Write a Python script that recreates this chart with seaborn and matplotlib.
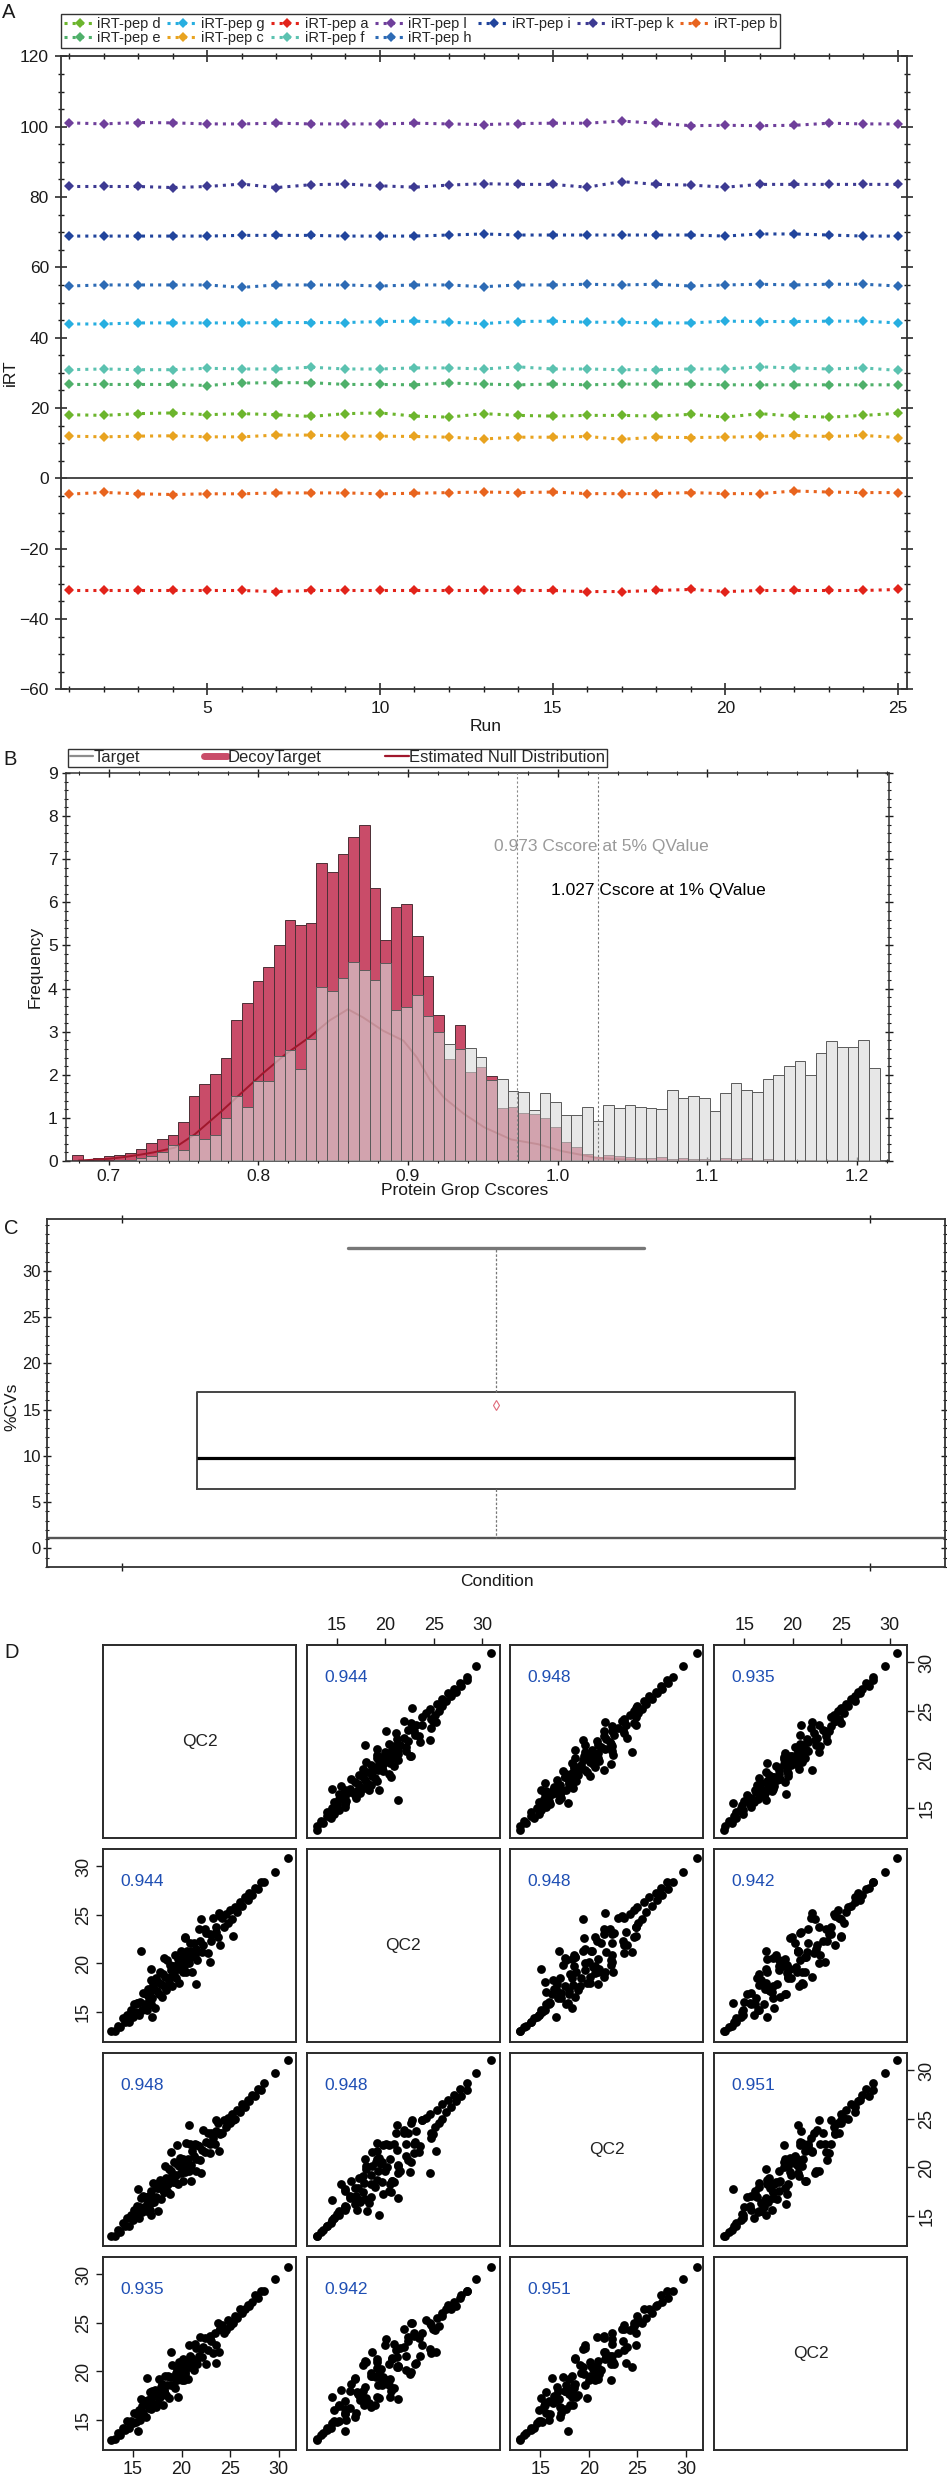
import numpy as np
import pandas as pd
import matplotlib
matplotlib.use("Agg")
import matplotlib.pyplot as plt
from matplotlib.ticker import MultipleLocator, FormatStrFormatter
from matplotlib.lines import Line2D
import seaborn as sns

sns.set_theme(style="ticks")
plt.rcParams["font.family"] = ["Liberation Sans", "DejaVu Sans"]

W, H = 947, 2480


def px(l, t, r, b):
    # pixel box -> figure fraction rect
    return [l / W, 1 - b / H, (r - l) / W, (b - t) / H]


# ---------------- panel A : iRT peptides per run
runs = list(range(1, 26))
pep_l = [101.1, 100.8, 101.2, 101.1, 100.8, 100.8, 101.0, 100.8, 100.8, 100.8, 101.0, 100.8, 100.6,
         100.9, 101.0, 101.0, 101.6, 101.0, 100.3, 100.4, 100.3, 100.4, 101.0, 100.8, 100.8]
pep_k = [83.0, 83.0, 83.0, 82.7, 83.0, 83.7, 82.7, 83.5, 83.7, 83.2, 82.8, 83.4, 83.8,
         83.6, 83.6, 82.8, 84.4, 83.6, 83.4, 82.8, 83.6, 83.6, 83.6, 83.6, 83.6]
pep_i = [68.9, 68.9, 68.9, 68.9, 68.9, 69.1, 69.1, 69.1, 68.9, 68.9, 68.9, 69.2, 69.5,
         69.2, 69.2, 69.2, 69.2, 69.2, 69.2, 68.9, 69.5, 69.5, 69.2, 68.9, 68.9]
pep_h = [54.7, 55.0, 55.0, 55.0, 55.0, 54.3, 55.0, 55.0, 55.0, 54.7, 55.0, 55.0, 54.5,
         55.0, 55.0, 55.2, 55.0, 55.2, 54.7, 55.0, 55.2, 55.0, 55.2, 55.2, 54.7]
pep_g = [43.9, 43.9, 44.2, 44.2, 44.2, 44.2, 44.3, 44.3, 44.3, 44.6, 44.7, 44.4, 44.0,
         44.6, 44.7, 44.4, 44.4, 44.2, 44.2, 44.7, 44.6, 44.6, 44.7, 44.7, 44.2]
pep_f = [30.9, 31.1, 30.9, 30.9, 31.3, 31.1, 31.1, 31.6, 31.1, 31.1, 31.4, 31.4, 31.1,
         31.7, 31.1, 31.1, 30.9, 30.9, 31.1, 31.1, 31.7, 31.4, 31.1, 31.4, 30.7]
pep_e = [26.7, 26.7, 26.7, 26.7, 26.4, 27.1, 27.2, 27.2, 26.7, 26.7, 26.6, 27.1, 26.8,
         26.6, 26.8, 26.6, 26.8, 26.8, 26.8, 26.6, 26.6, 26.6, 26.6, 26.6, 26.6]
pep_d = [18.1, 17.9, 18.4, 18.6, 18.1, 18.4, 18.1, 17.6, 18.4, 18.6, 17.7, 17.4, 18.4,
         17.9, 17.7, 17.9, 17.9, 17.7, 18.2, 17.4, 18.4, 17.7, 17.4, 17.9, 18.5]
pep_c = [12.0, 11.8, 12.0, 12.1, 11.8, 11.8, 12.3, 12.3, 12.0, 12.0, 11.9, 11.7, 11.2,
         11.7, 11.7, 11.9, 11.1, 11.7, 11.6, 11.7, 11.9, 12.2, 11.9, 12.2, 11.6]
pep_b = [-4.5, -4.0, -4.4, -4.6, -4.4, -4.4, -4.15, -4.15, -4.15, -4.4, -4.25, -4.05, -3.9,
         -4.05, -3.9, -4.35, -4.35, -4.35, -4.05, -4.35, -4.35, -3.6, -3.9, -4.05, -4.05]
pep_a = [-31.9, -31.9, -31.9, -31.9, -31.9, -31.9, -32.2, -31.9, -31.9, -31.9, -31.9, -31.9, -31.9,
         -31.9, -31.9, -32.2, -32.2, -31.9, -31.6, -32.2, -31.9, -31.9, -31.9, -31.9, -31.6]

pep_order = ["d", "e", "g", "c", "a", "f", "l", "h", "i", "k", "b"]
pep_vals = {"a": pep_a, "b": pep_b, "c": pep_c, "d": pep_d, "e": pep_e, "f": pep_f,
            "g": pep_g, "h": pep_h, "i": pep_i, "k": pep_k, "l": pep_l}
pep_colors = {"d": "#6cb52d", "e": "#4fb06a", "g": "#27aee0", "c": "#e8a320",
              "a": "#e2231a", "f": "#5bc2b0", "l": "#6f3f9b", "h": "#2d6bb5",
              "i": "#21449c", "k": "#3d3a92", "b": "#e8641e"}

# ---------------- panel B : Cscore histograms
bin_start, bin_width = 0.6755, 0.0071
decoy = [0.13, 0.03, 0.08, 0.11, 0.14, 0.19, 0.27, 0.42, 0.5, 0.6,
         0.91, 1.51, 1.78, 2.02, 2.40, 3.26, 3.66, 4.17, 4.50, 5.01,
         5.58, 5.47, 5.52, 6.91, 6.71, 7.12, 7.52, 7.79, 6.33, 5.12,
         5.89, 5.95, 5.21, 4.28, 3.39, 2.36, 3.16, 2.07, 2.19, 1.98,
         1.24, 1.26, 1.11, 1.08, 0.99, 0.79, 0.43, 0.33, 0.17, 0.1,
         0.15, 0.12, 0.1, 0.08, 0.06, 0.1, 0.05, 0.08, 0.04, 0.05,
         0.03, 0.06, 0.04, 0.07, 0.03, 0.05, 0.02, 0.03, 0.02, 0.02,
         0.01, 0.02, 0.01, 0.01, 0.01, 0.01]
target = [0, 0, 0, 0, 0.02, 0.03, 0.06, 0.12, 0.2, 0.36,
          0.25, 0.6, 0.5, 0.6, 0.99, 1.51, 1.26, 1.86, 1.86, 2.44,
          2.57, 2.13, 2.84, 4.03, 3.95, 4.24, 4.61, 4.42, 4.21, 4.59,
          3.50, 3.57, 3.85, 3.37, 3.0, 2.71, 2.60, 2.62, 2.42, 1.88,
          1.90, 1.63, 1.60, 1.18, 1.57, 1.38, 1.06, 1.06, 1.26, 0.93,
          1.3, 1.22, 1.3, 1.25, 1.22, 1.2, 1.65, 1.45, 1.5, 1.45,
          1.15, 1.57, 1.8, 1.65, 1.6, 1.9, 2.0, 2.2, 2.32, 2.0,
          2.5, 2.78, 2.65, 2.65, 2.8, 2.15]
null_x = [0.680, 0.690, 0.700, 0.710, 0.720, 0.730, 0.7442, 0.7576, 0.7756, 0.7891, 0.8026,
          0.8183, 0.8341, 0.8476, 0.8599, 0.8700, 0.8835, 0.8970, 0.9060, 0.9150, 0.9240,
          0.9375, 0.9510, 0.9689, 0.9869, 1.0027, 1.0252, 1.040, 1.060]
null_y = [0.01, 0.03, 0.05, 0.09, 0.14, 0.20, 0.31, 0.62, 1.16, 1.59, 2.02,
          2.48, 2.87, 3.26, 3.52, 3.33, 3.02, 2.79, 2.40, 1.86, 1.47,
          1.09, 0.78, 0.50, 0.39, 0.23, 0.08, 0.04, 0.01]
cut_5, cut_1 = 0.973, 1.027

# ---------------- panel C : %CV box
cv_q1, cv_med, cv_q3 = 6.4, 9.8, 16.9
cv_lo, cv_hi, cv_mean = 1.1, 32.5, 15.5

# ---------------- panel D : replicate scatter matrix (log intensities, estimated cloud)
qc_1 = [31.0, 29.6, 28.5, 28.2, 27.9, 27.6, 27.3, 27.0, 26.8, 26.5, 26.2, 26.0, 25.7, 25.5, 25.2,
        25.0, 24.8, 24.6, 24.4, 24.2,
        24.0, 23.8, 23.6, 23.4, 23.2, 23.0, 22.9, 22.7, 22.5, 22.4, 22.2, 22.1, 21.9, 21.8, 21.6,
        21.5, 21.4, 21.3, 21.1, 21.0, 20.9, 20.8, 20.7, 20.6, 20.5, 20.4, 20.3, 20.2, 20.1, 20.0,
        19.9, 19.8, 19.7, 19.6, 19.5, 19.4, 19.3, 19.2, 19.1, 19.0, 18.9, 18.8, 18.7, 18.6, 18.5,
        18.4, 18.3, 18.2, 18.1, 18.0, 17.9, 17.8, 17.7, 17.6, 17.5, 17.4, 17.3, 17.2, 17.1, 17.0,
        16.9, 16.8, 16.7, 16.6, 16.5, 16.4, 16.3, 16.2, 16.0, 15.9, 15.7, 15.6, 15.4, 15.3, 15.1,
        15.0, 14.8, 14.6, 14.4, 14.2, 14.0, 13.7, 13.4, 13.1, 12.7,
        15.8, 21.5, 22.9, 18.2, 20.4, 24.0, 17.0, 19.5, 21.0, 16.4, 23.5, 25.3, 18.9, 22.0, 16.9,
        20.8, 15.5, 23.9]
qc_2 = [30.9, 29.4, 28.4, 28.4, 27.7, 27.8, 27.1, 27.3, 26.5, 26.8, 25.9, 26.3, 25.3, 25.8, 24.6,
        25.5, 24.2, 25.1, 23.8, 24.7,
        24.9, 22.7, 23.8, 23.0, 24.7, 22.3, 23.0, 21.1, 23.1, 23.5, 21.9, 21.2, 22.3, 23.6, 20.4,
        21.5, 20.9, 22.1, 19.1, 21.3, 22.1, 20.0, 20.5, 21.3, 19.1, 22.6, 19.7, 20.7, 19.1, 20.2,
        21.3, 19.4, 18.0, 20.5, 19.6, 18.5, 20.9, 19.0, 19.7, 17.7, 19.3, 19.8, 18.0, 18.5, 20.4,
        17.3, 18.6, 17.7, 18.9, 16.5, 17.9, 19.1, 16.9, 18.1, 17.2, 18.5, 15.4, 17.4, 17.8, 16.4,
        18.3, 15.8, 17.1, 16.4, 17.4, 15.2, 16.9, 15.8, 17.0, 15.2, 16.0, 14.7, 15.9, 15.0, 15.8,
        14.5, 15.2, 14.0, 14.7, 14.0, 14.4, 13.4, 13.6, 13.0, 13.0,
        21.3, 17.9, 20.1, 20.6, 22.7, 21.9, 14.5, 19.8, 20.7, 16.9, 23.2, 22.8, 18.6, 24.6, 19.4,
        21.2, 15.9, 25.2]
qc_3 = [31.1, 29.7, 28.7, 28.0, 28.1, 27.4, 27.5, 26.9, 27.0, 26.2, 26.5, 25.7, 25.9, 25.0, 25.5,
        24.6, 25.1, 24.2, 24.9, 23.6,
        23.4, 24.6, 24.9, 22.4, 23.0, 23.5, 21.5, 23.6, 22.6, 21.6, 23.9, 21.8, 20.8, 22.2, 22.3,
        19.6, 22.4, 21.2, 21.7, 20.3, 22.4, 19.6, 20.9, 20.2, 22.5, 19.5, 20.6, 18.6, 20.9, 20.0,
        19.4, 21.0, 20.1, 18.3, 20.4, 19.2, 18.5, 20.6, 18.5, 19.1, 19.6, 17.3, 19.8, 18.3, 17.6,
        18.9, 20.1, 17.5, 18.0, 18.6, 16.7, 18.7, 17.9, 15.5, 17.9, 17.0, 18.3, 16.4, 18.4, 16.8,
        16.3, 17.6, 15.6, 17.1, 16.6, 15.5, 17.0, 15.9, 17.1, 15.4, 15.9, 14.8, 16.0, 15.2, 15.6,
        14.6, 15.1, 14.0, 14.8, 14.0, 14.3, 13.3, 13.5, 12.9, 12.9,
        16.9, 20.9, 22.4, 17.5, 20.6, 23.6, 16.6, 22.3, 18.6, 16.2, 23.8, 24.9, 21.6, 19.4, 15.1,
        24.4, 17.8, 21.7]
qc_4 = [30.8, 29.5, 28.3, 28.3, 27.6, 27.9, 27.2, 26.7, 26.9, 26.4, 26.0, 26.4, 25.5, 25.7, 25.0,
        24.7, 25.3, 24.3, 24.0, 24.8,
        24.4, 25.0, 22.7, 24.0, 21.9, 23.1, 23.7, 22.2, 20.8, 23.4, 22.5, 21.5, 23.5, 21.6, 20.8,
        22.4, 22.8, 20.2, 21.3, 20.6, 21.6, 22.7, 19.2, 20.6, 21.0, 19.7, 19.1, 21.3, 20.4, 19.1,
        20.5, 19.7, 21.0, 17.4, 20.3, 19.8, 18.3, 19.4, 18.6, 20.7, 18.6, 19.4, 17.3, 19.5, 18.6,
        17.6, 19.5, 18.0, 16.5, 18.7, 18.4, 17.4, 19.2, 16.7, 17.7, 16.3, 18.1, 17.5, 16.5, 18.0,
        16.7, 16.1, 17.9, 16.2, 17.1, 16.5, 15.3, 17.0, 15.7, 16.4, 15.0, 16.0, 15.6, 14.8, 15.7,
        14.7, 14.9, 14.2, 14.9, 14.0, 14.2, 13.4, 13.7, 13.0, 12.9,
        17.2, 21.1, 23.3, 18.0, 19.9, 24.4, 17.4, 19.1, 21.4, 19.3, 20.9, 25.0, 22.0, 22.3, 17.3,
        20.5, 13.9, 22.0]
qc_samples = [qc_1, qc_2, qc_3, qc_4]
qc_names = ["QC2", "QC2", "QC2", "QC2"]
corr_text = [["", "0.944", "0.948", "0.935"],
             ["0.944", "", "0.948", "0.942"],
             ["0.948", "0.948", "", "0.951"],
             ["0.935", "0.942", "0.951", ""]]
pair_ticks = [15, 20, 25, 30]

fig = plt.figure(figsize=(W / 100, H / 100), dpi=100)
fig.patch.set_facecolor("white")
ink = "#1a1a1a"

# ================= A
ax = fig.add_axes(px(60.7, 56.4, 907, 689.3))
ax.axhline(0, color="#3a3a3a", lw=1.3, zorder=1)
for key in pep_order:
    sns.lineplot(x=runs, y=pep_vals[key], ax=ax, color=pep_colors[key], linestyle=":",
                 linewidth=2.2, marker="D", markersize=5.5, markeredgewidth=0,
                 label=f"iRT-pep {key}", zorder=3)
handles, labels = ax.get_legend_handles_labels()
leg = ax.legend(handles, labels, ncol=7, loc="lower left", bbox_to_anchor=(0, 1.014),
                borderaxespad=0, frameon=True, fancybox=False, edgecolor="black",
                fontsize=10.5, handlelength=2.2, handletextpad=0.1, columnspacing=0.45,
                labelspacing=0.0, borderpad=0.2)
leg.get_frame().set_linewidth(1.0)
ax.set_xlim(0.757, 25.26)
ax.set_ylim(-60, 120)
ax.xaxis.set_major_locator(MultipleLocator(5))
ax.xaxis.set_minor_locator(MultipleLocator(1))
ax.yaxis.set_major_locator(MultipleLocator(20))
ax.yaxis.set_minor_locator(MultipleLocator(5))
ax.tick_params(which="both", direction="inout", top=True, right=True, color=ink)
ax.tick_params(which="major", length=9, width=1.1, labelsize=12.5, labelcolor=ink, pad=4)
ax.tick_params(which="minor", length=5, width=1.0)
ax.set_xlabel("Run", fontsize=12.5, color=ink)
ax.set_ylabel("iRT", fontsize=12.5, color=ink)
ax.xaxis.set_label_coords(0.5025, -0.047)
ax.yaxis.set_label_coords(-0.051, 0.5)
for s in ax.spines.values():
    s.set_linewidth(1.3)
    s.set_color("#333333")

# ================= B
axb = fig.add_axes(px(66, 773, 889, 1161))
n_bins = len(decoy)
bin_lo = bin_start
bin_hi = bin_start + n_bins * bin_width
centers = bin_lo + bin_width * (np.arange(n_bins) + 0.5)
hist_df = pd.DataFrame({"cscore": centers, "decoy": decoy, "target": target})
sns.histplot(data=hist_df, x="cscore", weights="decoy", bins=n_bins, binrange=(bin_lo, bin_hi),
             ax=axb, color="#c94c69", alpha=1.0, edgecolor="#4d2f36", linewidth=0.7, zorder=1)
axb.plot(null_x, null_y, color="#a0172c", lw=1.4, zorder=2)
sns.histplot(data=hist_df, x="cscore", weights="target", bins=n_bins, binrange=(bin_lo, bin_hi),
             ax=axb, color="#d9d9d9", alpha=0.62, edgecolor="#5a5a5a", linewidth=0.7, zorder=3)
axb.axvline(cut_5, color="#8a8a8a", lw=0.8, ls=(0, (2, 2)), zorder=4)
axb.axvline(cut_1, color="#777777", lw=0.8, ls=(0, (2, 2)), zorder=4)
axb.text(0.9575, 7.3, f"{cut_5} Cscore at 5% QValue", color="#9a9a9a", fontsize=12.5,
         va="center", ha="left")
axb.text(0.9953, 6.28, f"{cut_1} Cscore at 1% QValue", color="black", fontsize=12.5,
         va="center", ha="left")
leg_h = [Line2D([], [], color="#8c8c8c", lw=1.6),
         Line2D([], [], color="#c94c69", lw=5),
         Line2D([], [], color="#a0172c", lw=1.6)]
legb = axb.legend(leg_h, ["Target", "DecoyTarget", "Estimated Null Distribution"], ncol=3,
                  loc="lower left", bbox_to_anchor=(0.0024, 1.0155, 0.655, 0.045), mode="expand",
                  borderaxespad=0, frameon=True, fancybox=False, edgecolor="black", fontsize=12,
                  handlelength=1.4, handletextpad=0.05, borderpad=0.1, columnspacing=0.5)
legb.get_frame().set_linewidth(1.0)
axb.set_xlim(0.6715, 1.2214)
axb.set_ylim(0, 9)
axb.xaxis.set_major_locator(MultipleLocator(0.1))
axb.xaxis.set_minor_locator(MultipleLocator(0.02))
axb.xaxis.set_major_formatter(FormatStrFormatter("%.1f"))
axb.yaxis.set_major_locator(MultipleLocator(1))
axb.yaxis.set_minor_locator(MultipleLocator(0.2))
axb.tick_params(which="both", direction="inout", top=True, right=True, color=ink)
axb.tick_params(which="major", length=6, width=1.0, labelsize=12.5, labelcolor=ink, pad=3)
axb.tick_params(which="minor", length=3, width=0.8)
axb.set_xlabel("Protein Grop Cscores", fontsize=12.5, color=ink)
axb.set_ylabel("Frequency", fontsize=12.5, color=ink)
axb.xaxis.set_label_coords(0.4848, -0.056)
axb.yaxis.set_label_coords(-0.029, 0.5)
for s in axb.spines.values():
    s.set_linewidth(1.1)
    s.set_color("#333333")

# ================= C
axc = fig.add_axes(px(47, 1219, 945, 1567))
box_stats = [dict(med=cv_med, q1=cv_q1, q3=cv_q3, whislo=cv_lo, whishi=cv_hi,
                  mean=cv_mean, fliers=[])]
parts = axc.bxp(box_stats, positions=[0], widths=[1.33], capwidths=[0.66], showmeans=True,
                meanprops=dict(marker="d", markerfacecolor="none", markeredgecolor="#e06a7a",
                               markersize=5, markeredgewidth=0.8),
                medianprops=dict(color="black", lw=2.3),
                boxprops=dict(color="#444444", lw=1.4),
                whiskerprops=dict(color="#777777", lw=0.9, ls=(0, (2, 1.5))),
                capprops=dict(color="#777777", lw=2.4))
parts["caps"][0].set_visible(False)
axc.axhline(cv_lo, color="#555555", lw=1.7, zorder=1)
axc.set_xlim(-1, 1)
axc.set_ylim(-2.0, 35.6)
axc.set_xticks([-0.833, 0.833])
axc.set_xticklabels([])
axc.set_yticks(np.arange(0, 31, 5))
axc.yaxis.set_minor_locator(MultipleLocator(1))
axc.tick_params(which="both", direction="inout", top=True, right=True, color=ink)
axc.tick_params(which="major", length=6, width=1.0, labelsize=12, labelcolor=ink, pad=1.5)
axc.tick_params(which="minor", length=3, width=0.8)
axc.set_xlabel("Condition", fontsize=12.5, color=ink)
axc.set_ylabel("%CVs", fontsize=12.5, color=ink)
axc.xaxis.set_label_coords(0.501, -0.02)
axc.yaxis.set_label_coords(-0.031, 0.46)
for s in axc.spines.values():
    s.set_linewidth(1.3)
    s.set_color("#333333")

# ================= D
pan, step_x, step_y = 193, 203.7, 204
for i in range(4):
    for j in range(4):
        l = 103 + j * step_x
        t = 1645 + i * step_y
        a = fig.add_axes(px(l, t, l + pan, t + pan))
        a.set_xlim(11.9, 31.8)
        a.set_ylim(11.9, 31.8)
        if i == j:
            a.text(0.5, 0.5, qc_names[i], transform=a.transAxes, ha="center", va="center",
                   fontsize=12.5, color="#222222")
        else:
            sns.scatterplot(x=qc_samples[j], y=qc_samples[i], ax=a, color="black", s=40,
                            linewidth=0, legend=False)
            a.text(0.09, 0.83, corr_text[i][j], transform=a.transAxes, ha="left",
                   va="center", fontsize=12.5, color="#1f4fb4")
        a.set_xlabel("")
        a.set_ylabel("")
        a.set_xticks(pair_ticks)
        a.set_yticks(pair_ticks)
        show_b = i == 3 and j % 2 == 0
        show_t = i == 0 and j % 2 == 1
        show_l = j == 0 and i % 2 == 1
        show_r = j == 3 and i % 2 == 0
        a.tick_params(bottom=show_b, labelbottom=show_b, top=show_t, labeltop=show_t,
                      left=show_l, labelleft=show_l, right=show_r, labelright=show_r,
                      direction="out", length=5, width=1.0, color=ink, labelsize=13,
                      labelcolor=ink, pad=3)
        a.tick_params(axis="y", labelrotation=90)
        for tl in a.get_yticklabels():
            tl.set_va("center")
        for s in a.spines.values():
            s.set_linewidth(1.4)
            s.set_color("#2a2a2a")

# panel letters
for letter, (lx, ly) in {"A": (2, 13), "B": (3, 760), "C": (4, 1229), "D": (4, 1652)}.items():
    fig.text(lx / W, 1 - ly / H, letter, fontsize=14.5, color=ink, ha="left", va="center")

fig.savefig("out.png", dpi=100)
